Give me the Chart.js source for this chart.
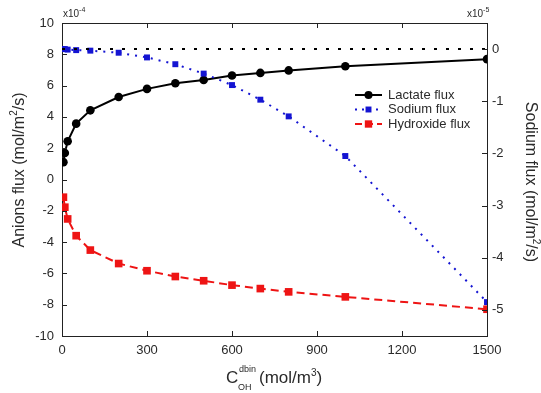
<!DOCTYPE html>
<html>
<head>
<meta charset="utf-8">
<script src="https://cdn.jsdelivr.net/npm/chart.js@4"></script>
<style>
  html, body { margin: 0; padding: 0; background: #fff; }
  #wrap { width: 541px; height: 393px; }
</style>
</head>
<body>
<div id="wrap"><canvas id="fluxChart" width="541" height="393"></canvas></div>
<script>
// C_OH^dbin (mol/m3)
const concentrations = [5, 10, 20, 50, 100, 200, 300, 400, 500, 600, 700, 800, 1000, 1500];
// x10^-4 mol/m2/s, left axis
const lactateFlux = [1.11, 1.69, 2.44, 3.57, 4.42, 5.27, 5.79, 6.15, 6.36, 6.65, 6.81, 6.97, 7.24, 7.69];
const hydroxideFlux = [-1.13, -1.77, -2.52, -3.59, -4.51, -5.37, -5.83, -6.2, -6.47, -6.75, -6.97, -7.18, -7.5, -8.29];
// x10^-5 mol/m2/s, right axis
const sodiumFlux = [0, 0, -0.01, -0.02, -0.03, -0.07, -0.16, -0.29, -0.47, -0.69, -0.97, -1.29, -2.05, -4.85];
// dotted zero line of the sodium axis
const zeroLineX = [0, 1500];
const zeroLineY = [0, 0];

const xTicks = [0, 300, 600, 900, 1200, 1500];
const leftTicks = [-10, -8, -6, -4, -2, 0, 2, 4, 6, 8, 10];
const rightTicks = [-5, -4, -3, -2, -1, 0];

const FONT = "'Liberation Sans', Arial, sans-serif";
const TEXT = '#2a2a2a';
const BLUE = '#1414d2';
const RED = '#ee1414';

function pts(xs, ys) {
    return xs.map((x, i) => ({ x: x, y: ys[i] }));
}

// draws a run of text pieces, each {t, size, dy}
function drawRich(ctx, parts, x, y) {
    let cx = x;
    parts.forEach(p => {
        ctx.font = p.size + 'px ' + FONT;
        ctx.fillText(p.t, cx + (p.dx || 0), y + (p.dy || 0));
        cx += ctx.measureText(p.t).width + (p.dx || 0);
    });
    return cx - x;
}

function richWidth(ctx, parts) {
    let w = 0;
    parts.forEach(p => {
        ctx.font = p.size + 'px ' + FONT;
        w += ctx.measureText(p.t).width + (p.dx || 0);
    });
    return w;
}

const legendItems = [
    { label: 'Lactate flux', color: '#000', dash: [], point: 'circle', r: 4, y: 95 },
    { label: 'Sodium flux', color: BLUE, dash: [2, 5], point: 'rect', r: 4.2, y: 109.5 },
    { label: 'Hydroxide flux', color: RED, dash: [7, 4], point: 'rect', r: 5.2, y: 124 }
];

const decorations = {
    id: 'decorations',
    afterDraw(chart) {
        const { ctx, chartArea: a, scales } = chart;
        ctx.save();
        ctx.strokeStyle = '#222';
        ctx.lineWidth = 1;

        // top frame line
        ctx.beginPath();
        ctx.moveTo(a.left, a.top + 0.5);
        ctx.lineTo(a.right, a.top + 0.5);
        ctx.stroke();

        // inward tick marks
        ctx.beginPath();
        scales.x.ticks.forEach(t => {
            const px = Math.round(scales.x.getPixelForValue(t.value)) + 0.5;
            ctx.moveTo(px, a.bottom); ctx.lineTo(px, a.bottom - 5);
            ctx.moveTo(px, a.top); ctx.lineTo(px, a.top + 5);
        });
        scales.y.ticks.forEach(t => {
            const py = Math.round(scales.y.getPixelForValue(t.value)) + 0.5;
            ctx.moveTo(a.left, py); ctx.lineTo(a.left + 5, py);
        });
        scales.y2.ticks.forEach(t => {
            const py = Math.round(scales.y2.getPixelForValue(t.value)) + 0.5;
            ctx.moveTo(a.right, py); ctx.lineTo(a.right - 5, py);
        });
        ctx.stroke();

        ctx.fillStyle = TEXT;
        ctx.textBaseline = 'alphabetic';
        ctx.textAlign = 'left';

        // multipliers
        drawRich(ctx, [{ t: 'x10', size: 10 }, { t: '-4', size: 7, dy: -5 }], 63, 17);
        drawRich(ctx, [{ t: 'x10', size: 10 }, { t: '-5', size: 7, dy: -5 }], 467, 17);

        // x axis title
        ctx.font = '17px ' + FONT;
        ctx.fillText('C', 226, 383);
        ctx.font = '9px ' + FONT;
        ctx.fillText('OH', 238, 390);
        ctx.fillText('dbin', 239, 372);
        drawRich(ctx, [{ t: '(mol/m', size: 17 }, { t: '3', size: 10, dy: -7 }, { t: ')', size: 17 }], 259, 383);

        // left axis title
        const leftTitle = [{ t: 'Anions flux (mol/m', size: 16 }, { t: '2', size: 10, dy: -7 }, { t: '/s)', size: 16 }];
        ctx.save();
        ctx.translate(24, 170);
        ctx.rotate(-Math.PI / 2);
        drawRich(ctx, leftTitle, -richWidth(ctx, leftTitle) / 2, 0);
        ctx.restore();

        // right axis title
        const rightTitle = [{ t: 'Sodium flux (mol/m', size: 16 }, { t: '2', size: 10, dy: -7 }, { t: '/s)', size: 16 }];
        ctx.save();
        ctx.translate(526, 182);
        ctx.rotate(Math.PI / 2);
        drawRich(ctx, rightTitle, -richWidth(ctx, rightTitle) / 2, 0);
        ctx.restore();

        // legend
        legendItems.forEach(item => {
            ctx.save();
            ctx.strokeStyle = item.color;
            ctx.lineWidth = 2;
            ctx.setLineDash(item.dash);
            ctx.beginPath();
            ctx.moveTo(355, item.y);
            ctx.lineTo(382, item.y);
            ctx.stroke();
            ctx.setLineDash([]);
            ctx.fillStyle = item.color;
            Chart.helpers.drawPoint(ctx, { pointStyle: item.point, radius: item.r, borderWidth: 0 }, 368.5, item.y);
            ctx.restore();
            ctx.fillStyle = TEXT;
            ctx.font = '13px ' + FONT;
            ctx.textBaseline = 'middle';
            ctx.fillText(item.label, 388, item.y);
        });
        ctx.restore();
    }
};

const tickFont = { family: FONT, size: 13 };
const plainLabel = value => String(value);

new Chart(document.getElementById('fluxChart').getContext('2d'), {
    type: 'line',
    data: {
        datasets: [
            {
                label: 'zero',
                data: pts(zeroLineX, zeroLineY),
                yAxisID: 'y2',
                borderColor: '#000',
                borderWidth: 2,
                borderDash: [3, 9],
                pointRadius: 0
            },
            {
                label: 'Sodium flux',
                data: pts(concentrations, sodiumFlux),
                yAxisID: 'y2',
                borderColor: BLUE,
                backgroundColor: BLUE,
                borderWidth: 2,
                borderDash: [2, 6],
                pointStyle: 'rect',
                pointRadius: 4.2,
                pointBorderWidth: 0
            },
            {
                label: 'Lactate flux',
                data: pts(concentrations, lactateFlux),
                yAxisID: 'y',
                borderColor: '#000',
                backgroundColor: '#000',
                borderWidth: 2,
                pointStyle: 'circle',
                pointRadius: 4.3,
                pointBorderWidth: 0
            },
            {
                label: 'Hydroxide flux',
                data: pts(concentrations, hydroxideFlux),
                yAxisID: 'y',
                borderColor: RED,
                backgroundColor: RED,
                borderWidth: 2,
                borderDash: [8, 5],
                pointStyle: 'rect',
                pointRadius: 5.4,
                pointBorderWidth: 0
            }
        ]
    },
    options: {
        responsive: false,
        animation: false,
        devicePixelRatio: 1,
        layout: { padding: { top: 23, left: 0, right: 0, bottom: 0 } },
        plugins: {
            legend: { display: false },
            tooltip: { enabled: false }
        },
        scales: {
            x: {
                type: 'linear',
                min: 0,
                max: 1500,
                afterBuildTicks: s => { s.ticks = xTicks.map(v => ({ value: v })); },
                afterFit: s => { s.height = 57; },
                grid: { display: false, drawTicks: false },
                border: { display: true, color: '#222', width: 1 },
                ticks: { font: tickFont, color: TEXT, padding: 7, maxRotation: 0, callback: plainLabel }
            },
            y: {
                position: 'left',
                min: -10,
                max: 10,
                afterBuildTicks: s => { s.ticks = leftTicks.map(v => ({ value: v })); },
                afterFit: s => { s.width = 62; },
                grid: { display: false, drawTicks: false },
                border: { display: true, color: '#222', width: 1 },
                ticks: { font: tickFont, color: TEXT, padding: 8, callback: plainLabel }
            },
            y2: {
                position: 'right',
                min: -5.5,
                max: 0.5,
                afterBuildTicks: s => { s.ticks = rightTicks.map(v => ({ value: v })); },
                afterFit: s => { s.width = 54; },
                grid: { display: false, drawTicks: false },
                border: { display: true, color: '#222', width: 1 },
                ticks: { font: tickFont, color: TEXT, padding: 5, callback: plainLabel }
            }
        }
    },
    plugins: [decorations]
});
</script>
</body>
</html>
